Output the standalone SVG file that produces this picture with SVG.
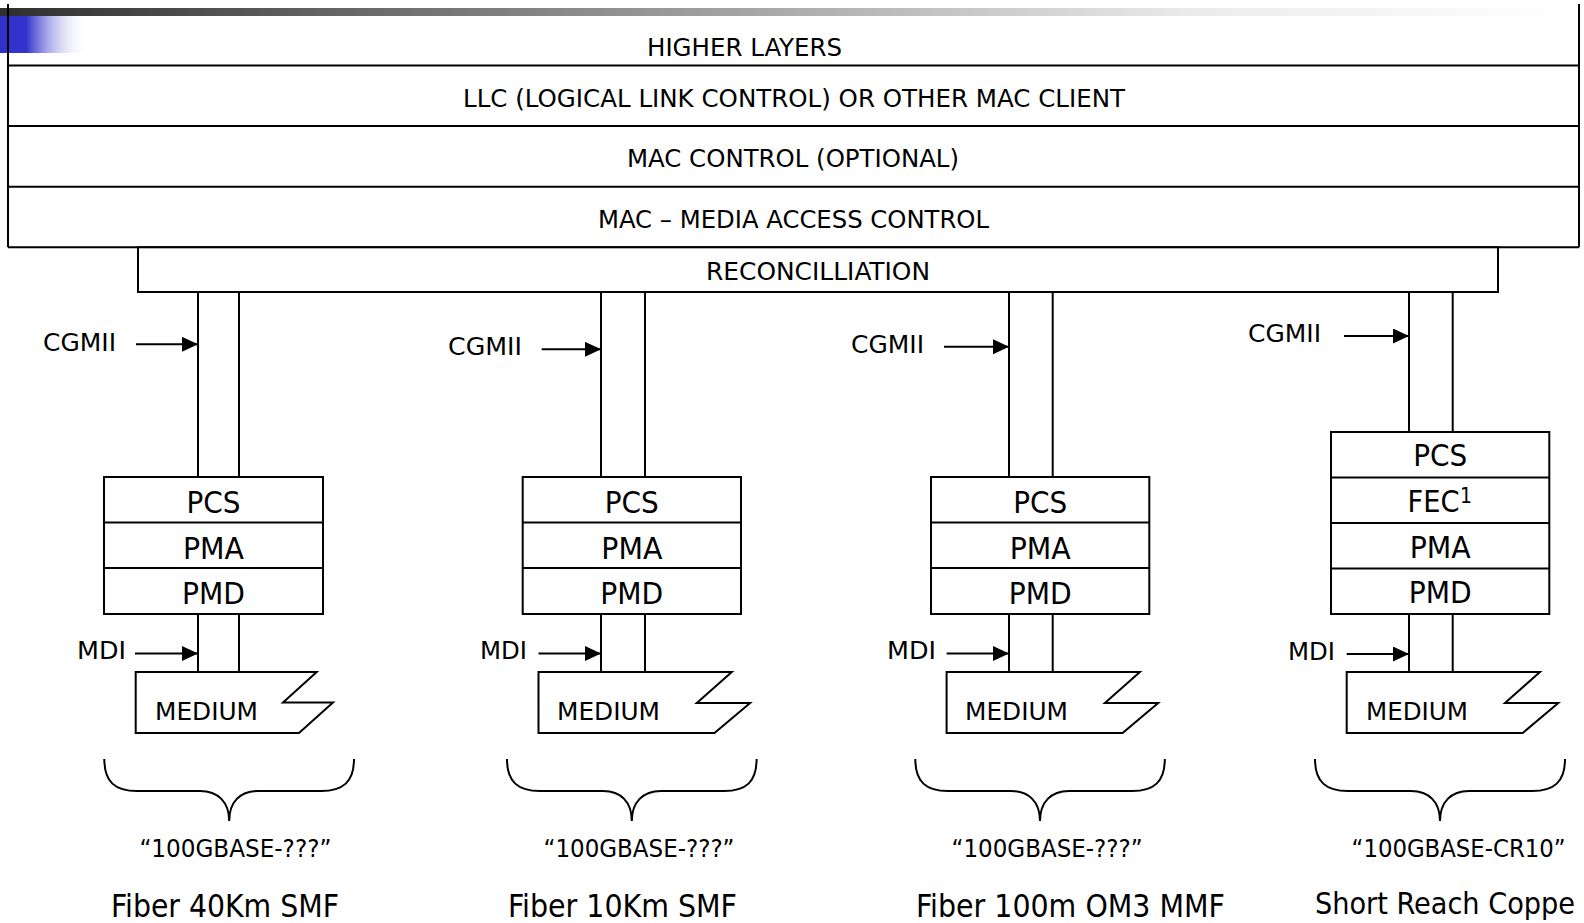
<svg xmlns="http://www.w3.org/2000/svg" width="1584" height="923" viewBox="0 0 1584 923">
  <defs>
    <linearGradient id="topBar" x1="0" y1="0" x2="1" y2="0">
      <stop offset="0" stop-color="#2f2f2f"/>
      <stop offset="0.25" stop-color="#6e6e6e"/>
      <stop offset="0.76" stop-color="#ebebeb"/>
      <stop offset="1" stop-color="#ffffff"/>
    </linearGradient>
    <linearGradient id="blueFade" x1="0" y1="0" x2="1" y2="0">
      <stop offset="0" stop-color="#3030cc"/>
      <stop offset="0.3" stop-color="#3333cc"/>
      <stop offset="1" stop-color="#ffffff" stop-opacity="0"/>
    </linearGradient>
    <marker id="arrow" markerUnits="userSpaceOnUse" markerWidth="17" markerHeight="16" refX="16" refY="7.5" orient="auto">
      <path d="M0,0 L16,7.5 L0,15 z" fill="#000"/>
    </marker>
  </defs>
  <style>
    .ln { fill: none; stroke: #000; stroke-width: 2; }
    .box { fill: #fff; stroke: #000; stroke-width: 2; }
    .arr { fill: none; stroke: #000; stroke-width: 2; marker-end: url(#arrow); }
    text { font-family: 'DejaVu Sans Condensed', 'DejaVu Sans', sans-serif; fill: #000; }
    .lay { font-size: 25px; }
    .lbl { font-size: 25px; }
    .sub { font-size: 31px; text-anchor: middle; }
    .sup { font-size: 21px; }
    .std { font-size: 24px; }
    .med { font-size: 32px; }
    .med-s { font-size: 30px; }
  </style>

  <rect width="1584" height="923" fill="#fff"/>

  <!-- title bar decoration -->
  <g id="title-bar">
    <rect x="0" y="10" width="88" height="43" fill="url(#blueFade)"/>
    <rect x="0" y="8" width="1572" height="8" fill="url(#topBar)"/>
  </g>

  <!-- MAC-side stack -->
  <g id="layer-stack">
    <line class="ln" x1="8" y1="4" x2="8" y2="247.3"/>
    <line class="ln" x1="1579" y1="4" x2="1579" y2="247.3"/>
    <line class="ln" x1="8" y1="65.5" x2="1579" y2="65.5"/>
    <line class="ln" x1="8" y1="126" x2="1579" y2="126"/>
    <line class="ln" x1="8" y1="186.7" x2="1579" y2="186.7"/>
    <line class="ln" x1="8" y1="247.3" x2="1579" y2="247.3"/>
  </g>
  <g id="higher-layers">
    <text class="lay" x="647" y="55.7" textLength="195" lengthAdjust="spacingAndGlyphs">HIGHER LAYERS</text>
  </g>
  <g id="llc">
    <text class="lay" x="463" y="107" textLength="662" lengthAdjust="spacingAndGlyphs">LLC (LOGICAL LINK CONTROL) OR OTHER MAC CLIENT</text>
  </g>
  <g id="mac-control">
    <text class="lay" x="627" y="167.3" textLength="332" lengthAdjust="spacingAndGlyphs">MAC CONTROL (OPTIONAL)</text>
  </g>
  <g id="mac">
    <text class="lay" x="598" y="228.3" textLength="391" lengthAdjust="spacingAndGlyphs">MAC – MEDIA ACCESS CONTROL</text>
  </g>
  <g id="reconciliation">
    <rect class="box" x="138" y="247.3" width="1360" height="44.7"/>
    <text class="lay" x="706" y="280" textLength="224" lengthAdjust="spacingAndGlyphs">RECONCILLIATION</text>
  </g>

  <!-- interface channels and pointer arrows -->
  <g id="connectors">
    <path class="ln" d="M198,292 V477 M239,292 V477 M198,614 V672 M239,614 V672"/>
    <path class="ln" d="M601,292 V477 M645,292 V477 M601,614 V672 M645,614 V672"/>
    <path class="ln" d="M1009,292 V477 M1052.7,292 V477 M1009,614 V672 M1052.7,614 V672"/>
    <path class="ln" d="M1409,292 V432 M1452.7,292 V432 M1409,614 V672 M1452.7,614 V672"/>
    <line class="arr" x1="136" y1="344.3" x2="198" y2="344.3"/>
    <line class="arr" x1="541.7" y1="349.3" x2="601" y2="349.3"/>
    <line class="arr" x1="944" y1="346.7" x2="1009" y2="346.7"/>
    <line class="arr" x1="1344" y1="336" x2="1409" y2="336"/>
    <line class="arr" x1="135" y1="653.5" x2="198" y2="653.5"/>
    <line class="arr" x1="538.5" y1="653.5" x2="601" y2="653.5"/>
    <line class="arr" x1="946.6" y1="653.5" x2="1009" y2="653.5"/>
    <line class="arr" x1="1346.7" y1="654" x2="1409" y2="654"/>
  </g>

  <!-- PHY 1: 40 km SMF -->
  <g id="phy-40km">
    <text class="lbl" x="43" y="350.7" textLength="73" lengthAdjust="spacingAndGlyphs">CGMII</text>
    <rect class="box" x="104" y="477" width="219" height="137"/>
    <line class="ln" x1="104" y1="522.5" x2="323" y2="522.5"/>
    <line class="ln" x1="104" y1="568" x2="323" y2="568"/>
    <text class="sub" x="213.5" y="513.3" textLength="54" lengthAdjust="spacingAndGlyphs">PCS</text>
    <text class="sub" x="213.5" y="559" textLength="61" lengthAdjust="spacingAndGlyphs">PMA</text>
    <text class="sub" x="213.5" y="604" textLength="63" lengthAdjust="spacingAndGlyphs">PMD</text>
    <text class="lbl" x="77" y="659.3" textLength="49" lengthAdjust="spacingAndGlyphs">MDI</text>
    <polygon class="box" points="135.7,672 316.7,672 283,702.5 333,702.5 299,733 135.7,733"/>
    <text class="lbl" x="155" y="719.5" textLength="103" lengthAdjust="spacingAndGlyphs">MEDIUM</text>
    <path class="ln" d="M104.3,759 C104.3,782 115,791 137,791 L200,791 C218,791 229.2,802 229.2,821 C229.2,802 240,791 258,791 L321,791 C343,791 354,782 354,759"/>
    <text class="std" x="139.4" y="857" textLength="192" lengthAdjust="spacingAndGlyphs">“100GBASE-???”</text>
    <text class="med" x="111" y="917" textLength="228" lengthAdjust="spacingAndGlyphs">Fiber 40Km SMF</text>
  </g>

  <!-- PHY 2: 10 km SMF -->
  <g id="phy-10km">
    <text class="lbl" x="448" y="355" textLength="74" lengthAdjust="spacingAndGlyphs">CGMII</text>
    <rect class="box" x="522.7" y="477" width="218.3" height="137"/>
    <line class="ln" x1="522.7" y1="522.5" x2="741" y2="522.5"/>
    <line class="ln" x1="522.7" y1="568" x2="741" y2="568"/>
    <text class="sub" x="631.8" y="513.3" textLength="54" lengthAdjust="spacingAndGlyphs">PCS</text>
    <text class="sub" x="631.8" y="559" textLength="61" lengthAdjust="spacingAndGlyphs">PMA</text>
    <text class="sub" x="631.8" y="604" textLength="63" lengthAdjust="spacingAndGlyphs">PMD</text>
    <text class="lbl" x="480" y="659.3" textLength="47" lengthAdjust="spacingAndGlyphs">MDI</text>
    <polygon class="box" points="538.5,672 731.8,672 696.8,703 750.1,703 714.5,733 538.5,733"/>
    <text class="lbl" x="557" y="719.5" textLength="103" lengthAdjust="spacingAndGlyphs">MEDIUM</text>
    <path class="ln" d="M507,759 C507,782 518,791 540,791 L603,791 C621,791 631.8,802 631.8,821 C631.8,802 643,791 661,791 L724,791 C746,791 756.6,782 756.6,759"/>
    <text class="std" x="543.5" y="857" textLength="191" lengthAdjust="spacingAndGlyphs">“100GBASE-???”</text>
    <text class="med" x="508" y="917" textLength="229" lengthAdjust="spacingAndGlyphs">Fiber 10Km SMF</text>
  </g>

  <!-- PHY 3: 100 m OM3 MMF -->
  <g id="phy-100m">
    <text class="lbl" x="851" y="352.7" textLength="73" lengthAdjust="spacingAndGlyphs">CGMII</text>
    <rect class="box" x="931" y="477" width="218.3" height="137"/>
    <line class="ln" x1="931" y1="522.5" x2="1149.3" y2="522.5"/>
    <line class="ln" x1="931" y1="568" x2="1149.3" y2="568"/>
    <text class="sub" x="1040.2" y="513.3" textLength="54" lengthAdjust="spacingAndGlyphs">PCS</text>
    <text class="sub" x="1040.2" y="559" textLength="61" lengthAdjust="spacingAndGlyphs">PMA</text>
    <text class="sub" x="1040.2" y="604" textLength="63" lengthAdjust="spacingAndGlyphs">PMD</text>
    <text class="lbl" x="887" y="659.3" textLength="49" lengthAdjust="spacingAndGlyphs">MDI</text>
    <polygon class="box" points="946.6,672 1139.9,672 1104.9,703 1158.2,703 1122.6,733 946.6,733"/>
    <text class="lbl" x="965" y="719.5" textLength="103" lengthAdjust="spacingAndGlyphs">MEDIUM</text>
    <path class="ln" d="M915.3,759 C915.3,782 926,791 948,791 L1011,791 C1029,791 1040,802 1040,821 C1040,802 1051,791 1069,791 L1132,791 C1154,791 1164.8,782 1164.8,759"/>
    <text class="std" x="951.6" y="857" textLength="191" lengthAdjust="spacingAndGlyphs">“100GBASE-???”</text>
    <text class="med" x="916" y="917" textLength="309" lengthAdjust="spacingAndGlyphs">Fiber 100m OM3 MMF</text>
  </g>

  <!-- PHY 4: copper CR10 -->
  <g id="phy-cr10">
    <text class="lbl" x="1248" y="342.3" textLength="73" lengthAdjust="spacingAndGlyphs">CGMII</text>
    <rect class="box" x="1331" y="432" width="218.3" height="182"/>
    <line class="ln" x1="1331" y1="477.5" x2="1549.3" y2="477.5"/>
    <line class="ln" x1="1331" y1="523" x2="1549.3" y2="523"/>
    <line class="ln" x1="1331" y1="568.5" x2="1549.3" y2="568.5"/>
    <text class="sub" x="1440.2" y="466" textLength="54" lengthAdjust="spacingAndGlyphs">PCS</text>
    <text class="sub" x="1433.5" y="512.3" textLength="52" lengthAdjust="spacingAndGlyphs">FEC</text>
    <text class="sup" x="1460" y="502.5">1</text>
    <text class="sub" x="1440.2" y="558.3" textLength="61" lengthAdjust="spacingAndGlyphs">PMA</text>
    <text class="sub" x="1440.2" y="603.3" textLength="63" lengthAdjust="spacingAndGlyphs">PMD</text>
    <text class="lbl" x="1288" y="660" textLength="47" lengthAdjust="spacingAndGlyphs">MDI</text>
    <polygon class="box" points="1346.7,672 1540,672 1505,703 1558.3,703 1522.7,733 1346.7,733"/>
    <text class="lbl" x="1366" y="720" textLength="102" lengthAdjust="spacingAndGlyphs">MEDIUM</text>
    <path class="ln" d="M1315,759 C1315,782 1326,791 1348,791 L1411,791 C1429,791 1440,802 1440,821 C1440,802 1451,791 1469,791 L1532,791 C1554,791 1565,782 1565,759"/>
    <text class="std" x="1351.6" y="857" textLength="214" lengthAdjust="spacingAndGlyphs">“100GBASE-CR10”</text>
    <text class="med-s" x="1315" y="914" textLength="260" lengthAdjust="spacingAndGlyphs">Short Reach Coppe</text>
  </g>
</svg>
